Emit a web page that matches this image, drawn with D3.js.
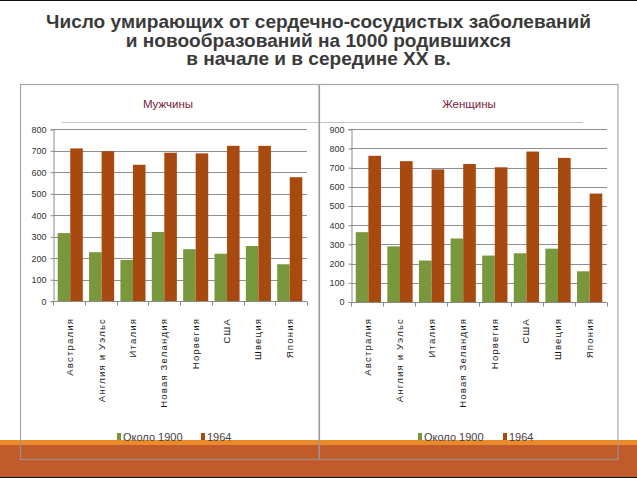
<!DOCTYPE html>
<html>
<head>
<meta charset="utf-8">
<script src="https://cdn.jsdelivr.net/npm/d3@7"></script>
<style>
  html, body { margin: 0; padding: 0; background: #fff; }
  svg { display: block; }
</style>
</head>
<body>
<svg id="chart" width="637" height="478"></svg>
<script>
const titleLines = [
  "Число умирающих от сердечно-сосудистых заболеваний",
  "и новообразований на 1000 родившихся",
  "в начале и в середине XX в."
];
const categories = ["Австралия", "Англия и Уэльс", "Италия", "Новая Зеландия", "Норвегия", "США", "Швеция", "Япония"];
const seriesNames = ["Около 1900", "1964"];
const men1900 = [317, 228, 192, 322, 242, 221, 257, 172];
const men1964 = [711, 698, 635, 691, 688, 723, 723, 577];
const women1900 = [364, 290, 216, 331, 242, 254, 278, 160];
const women1964 = [762, 734, 691, 719, 702, 784, 751, 565];
const menTicks = [0, 100, 200, 300, 400, 500, 600, 700, 800];
const womenTicks = [0, 100, 200, 300, 400, 500, 600, 700, 800, 900];
const panelTitles = ["Мужчины", "Женщины"];

const colors = ["#79983d", "#a8490f"];
const svg = d3.select("#chart");

svg.append("rect").attr("x", 0).attr("y", 0).attr("width", 637).attr("height", 1).attr("fill", "#111");

// title (slightly stretched horizontally like the reference)
const title = svg.append("text")
  .attr("transform", "translate(318.5,0) scale(1.09,1)")
  .attr("text-anchor", "middle")
  .attr("font-family", "'Liberation Sans', Arial, sans-serif")
  .attr("font-weight", "bold")
  .attr("font-size", "17.5px")
  .attr("fill", "#3a3a3a");
titleLines.forEach((t, i) => {
  title.append("tspan").attr("x", 0).attr("y", 28 + i * 18.7).text(t);
});

// bottom orange band
svg.append("rect").attr("x", 0).attr("y", 440).attr("width", 637).attr("height", 5).attr("fill", "#ea8a2a");
svg.append("rect").attr("x", 0).attr("y", 445).attr("width", 637).attr("height", 32).attr("fill", "#c05b2c");
svg.append("rect").attr("x", 0).attr("y", 477).attr("width", 637).attr("height", 1).attr("fill", "#111");

// shared title underline
svg.append("line").attr("x1", 62).attr("x2", 583).attr("y1", 122.5).attr("y2", 122.5)
  .attr("stroke", "#c4c4c4").attr("stroke-width", 1.2);

const panels = [
  { title: panelTitles[0], a: men1900, b: men1964, ticks: menTicks, max: 800,
    x0: 53, x1: 307, yTop: 129.3, yBot: 301.2, titleX: 168 },
  { title: panelTitles[1], a: women1900, b: women1964, ticks: womenTicks, max: 900,
    x0: 351, x1: 607, yTop: 129.3, yBot: 302, titleX: 469 }
];

panels.forEach((p, pi) => {
  const g = svg.append("g");
  const y = d3.scaleLinear().domain([0, p.max]).range([p.yBot, p.yTop]);
  const x = d3.scaleBand().domain(categories).range([p.x0, p.x1]).paddingInner(0.2).paddingOuter(0.15);
  const xs = d3.scaleBand().domain(seriesNames).range([0, x.bandwidth()]);

  g.append("text").attr("x", p.titleX).attr("y", 108).attr("text-anchor", "middle")
    .attr("font-family", "'Liberation Sans', Arial, sans-serif").attr("font-size", "11.5px")
    .attr("fill", "#7a2038").text(p.title);

  g.append("g").selectAll("line").data(p.ticks.filter(d => d > 0)).join("line")
    .attr("x1", p.x0).attr("x2", p.x1)
    .attr("y1", d => Math.round(y(d)) + 0.5).attr("y2", d => Math.round(y(d)) + 0.5)
    .attr("stroke", "#8e8e8e").attr("stroke-width", 1);

  const rows = categories.map((c, i) => ({ c, vals: [p.a[i], p.b[i]] }));
  const grp = g.append("g").selectAll("g").data(rows).join("g")
    .attr("transform", d => `translate(${x(d.c)},0)`);
  grp.selectAll("rect").data(d => d.vals.map((v, k) => ({ v, k }))).join("rect")
    .attr("x", d => xs(seriesNames[d.k]))
    .attr("width", xs.bandwidth())
    .attr("y", d => y(d.v))
    .attr("height", d => y(0) - y(d.v))
    .attr("fill", d => colors[d.k]);

  const yAxis = g.append("g").attr("transform", `translate(${p.x0 + 0.5},0)`)
    .call(d3.axisLeft(y).tickValues(p.ticks).tickSize(3).tickPadding(4).tickFormat(d3.format("d")));
  yAxis.select(".domain").attr("stroke", "#8a8a8a");
  yAxis.selectAll(".tick line").attr("stroke", "#8a8a8a");
  yAxis.selectAll("text").attr("font-family", "'Liberation Sans', Arial, sans-serif")
    .attr("font-size", "9px").attr("fill", "#333");

  const xAxisG = g.append("g").attr("transform", `translate(0,${Math.round(p.yBot) + 0.5})`);
  xAxisG.append("line").attr("x1", p.x0).attr("x2", p.x1).attr("stroke", "#8a8a8a");
  const bounds = d3.range(categories.length + 1).map(i => p.x0 + (p.x1 - p.x0) * i / categories.length);
  xAxisG.selectAll("line.tk").data(bounds).join("line").attr("class", "tk")
    .attr("x1", d => Math.round(d) + 0.5).attr("x2", d => Math.round(d) + 0.5)
    .attr("y1", 0).attr("y2", 4).attr("stroke", "#8a8a8a");

  g.append("g").selectAll("text").data(categories).join("text")
    .attr("transform", d => `translate(${x(d) + x.bandwidth() / 2 + 3},318) rotate(-90)`)
    .attr("text-anchor", "end")
    .attr("font-family", "'Liberation Sans', Arial, sans-serif")
    .attr("font-size", "9.5px").attr("letter-spacing", "1.2px")
    .attr("fill", "#1a1a1a").text(d => d);

  const legX = pi === 0 ? [117, 201] : [418, 503];
  const leg = g.append("g").selectAll("g").data(seriesNames).join("g")
    .attr("transform", (d, i) => `translate(${legX[i]},433)`);
  leg.append("rect").attr("width", 4).attr("height", 7).attr("fill", (d, i) => colors[i]);
  leg.append("text").attr("x", 6).attr("y", 7.5)
    .attr("font-family", "'Liberation Sans', Arial, sans-serif").attr("font-size", "11px")
    .attr("fill", "#444").text(d => d);
});

svg.append("rect").attr("x", 20.5).attr("y", 84.5).attr("width", 298.5).attr("height", 375)
  .attr("fill", "none").attr("stroke", "rgba(150,150,150,0.85)").attr("stroke-width", 1.2);
svg.append("rect").attr("x", 319.5).attr("y", 84.5).attr("width", 298.5).attr("height", 375)
  .attr("fill", "none").attr("stroke", "rgba(150,150,150,0.85)").attr("stroke-width", 1.2);
</script>
</body>
</html>
